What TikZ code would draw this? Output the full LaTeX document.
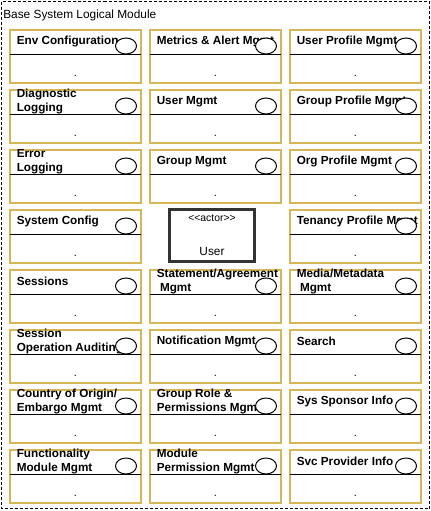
\documentclass[tikz,border=0pt]{standalone}
\usepackage{fontspec}
\setmainfont{Liberation Sans}
\usetikzlibrary{calc,shapes.geometric}
\definecolor{modgold}{HTML}{D6B656}
\tikzset{
  modbox/.style={draw=modgold, line width=1.5pt, minimum width=98.25pt, minimum height=39.75pt,
    inner sep=0pt, outer sep=0pt, anchor=north west},
  modlabel/.style={anchor=west, align=left, inner sep=0pt, font=\fontsize{8.8}{10.7}\selectfont\bfseries},
  modicon/.style={ellipse, draw, fill=white, line width=0.75pt, minimum width=15.75pt,
    minimum height=12pt, inner sep=0pt},
  moddot/.style={anchor=base, inner sep=0pt, font=\fontsize{8.25}{10}\selectfont},
  divider/.style={line width=0.75pt},
  actorbox/.style={draw=black!80, line width=2.25pt, minimum width=63.75pt, minimum height=39pt, inner sep=0pt},
  outerframe/.style={line width=0.75pt, dash pattern=on 2.25pt off 1.5pt}
}
% #1 name, #2 x, #3 y, #4 label
\def\drawModule#1#2#3#4{
\node[modbox] (#1) at (#2,#3) {};
\draw[divider] ($(#1.north west)+(0,24)$) -- ($(#1.north east)+(0,24)$);
\node[modlabel] (#1-label) at ($(#1.north west)+(6.5,11.5)$) {#4};
\node[modicon] (#1-icon) at ($(#1.north east)+(-15,16)$) {};
\node[moddot] (#1-dot) at ($(#1.north)+(0,46)$) {.};
}
\begin{document}
\begin{tikzpicture}[x=0.75pt, y=-0.75pt]
  \useasboundingbox (0,0) rectangle (431,511);
  \draw[outerframe] (1.5,1.5) rectangle (429.5,508.5);
  \node[anchor=base west, inner sep=0pt, font=\fontsize{8.9}{10}\selectfont] (title) at (3,18) {Base System Logical Module};
  % left column
  \drawModule{env}{10}{30}{Env Configuration}
  \drawModule{diag}{10}{90}{Diagnostic\\Logging}
  \drawModule{error}{10}{150}{Error\\Logging}
  \drawModule{sysconf}{10}{210}{System Config}
  \drawModule{sessions}{10}{270}{Sessions}
  \drawModule{audit}{10}{330}{Session\\Operation Auditing}
  \drawModule{country}{10}{390}{Country of Origin/\\Embargo Mgmt}
  \drawModule{func}{10}{450}{Functionality\\Module Mgmt}
  % middle column
  \drawModule{metrics}{150}{30}{Metrics \& Alert Mgmt}
  \drawModule{usermgmt}{150}{90}{User Mgmt}
  \drawModule{groupmgmt}{150}{150}{Group Mgmt}
  \drawModule{statement}{150}{270}{Statement/Agreement\\\ Mgmt}
  \drawModule{notify}{150}{330}{Notification Mgmt}
  \drawModule{grouprole}{150}{390}{Group Role \&\\Permissions Mgmt}
  \drawModule{modperm}{150}{450}{Module\\Permission Mgmt}
  % right column
  \drawModule{userprof}{290}{30}{User Profile Mgmt}
  \drawModule{groupprof}{290}{90}{Group Profile Mgmt}
  \drawModule{orgprof}{290}{150}{Org Profile Mgmt}
  \drawModule{tenancy}{290}{210}{Tenancy Profile Mgmt}
  \drawModule{media}{290}{270}{Media/Metadata\\\ Mgmt}
  \drawModule{search}{290}{330}{Search}
  \drawModule{sponsor}{290}{390}{Sys Sponsor Info}
  \drawModule{provider}{290}{450}{Svc Provider Info}
  % actor
  \node[actorbox] (user) at (212,235.5) {};
  \node[inner sep=0pt, font=\fontsize{7.8}{8}\selectfont] (user-stereo) at ($(user.north)+(0,10.5)$) {\textless\kern0pt\textless actor\textgreater\kern0pt\textgreater};
  \node[anchor=base, inner sep=0pt, font=\fontsize{8.9}{10}\selectfont] (user-name) at ($(user.south)+(0,-7.5)$) {User};
\end{tikzpicture}
\end{document}
